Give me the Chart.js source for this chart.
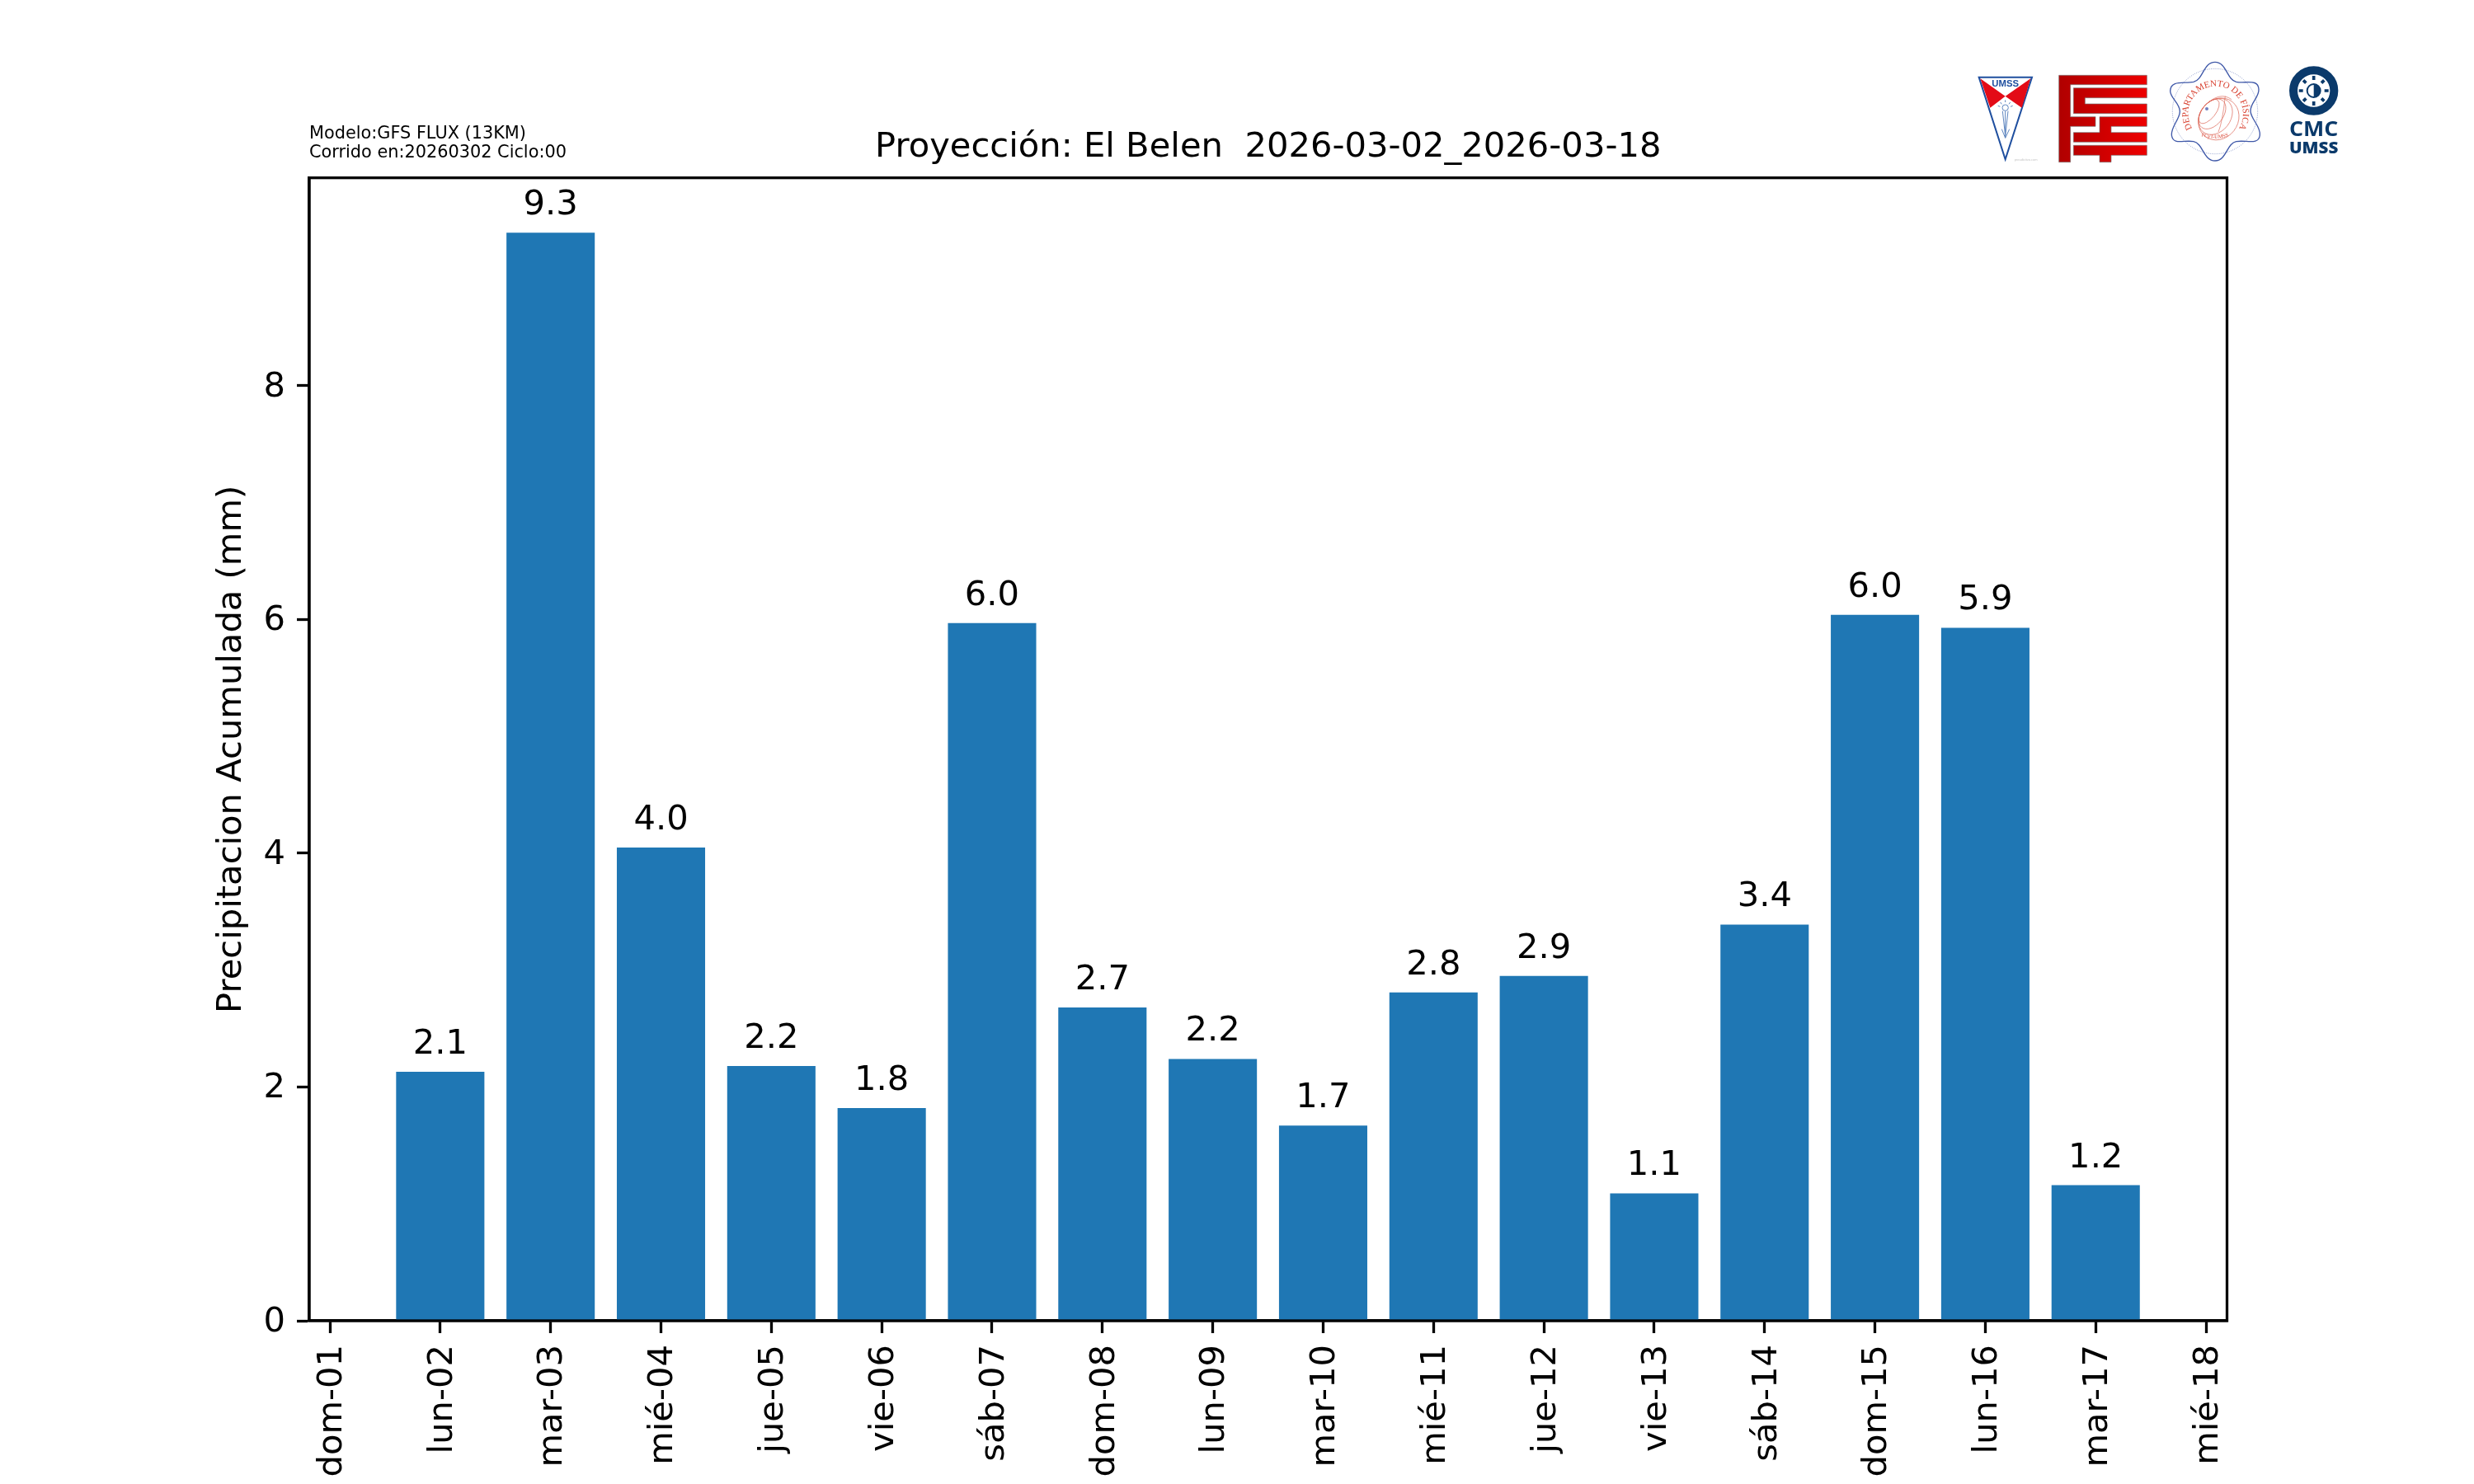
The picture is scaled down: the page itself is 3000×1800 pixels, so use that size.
<!DOCTYPE html>
<html><head><meta charset="utf-8">
<style>html,body{margin:0;padding:0;background:#fff;width:3000px;height:1800px;overflow:hidden}
#c{position:absolute;left:0;top:0}#logos{position:absolute;left:2390px;top:60px}</style>
<script src="https://cdn.jsdelivr.net/npm/chart.js@4"></script>
</head><body>
<canvas id="c" width="3000" height="1800"></canvas>
<svg id="logos" width="500" height="150" viewBox="0 0 1500 450" xmlns="http://www.w3.org/2000/svg">
<defs>
<linearGradient id="rg" gradientUnits="userSpaceOnUse" x1="320" x2="640" y1="0" y2="0"><stop offset="0" stop-color="#b00000"/><stop offset="1" stop-color="#ee0000"/></linearGradient>
<path id="arcTop" d="M 806,288 A 100,100 0 1 1 974,288"/>
<path id="arcBot" d="M 825,311 Q 888,336 950,311"/>
</defs>
<!-- UMSS -->
<polygon points="29,101 222,101 125,400" fill="#fff" stroke="#1f4f9f" stroke-width="6"/>
<polygon points="34,106 125,170 70,212" fill="#e30b17"/>
<polygon points="217,106 125,170 185,212" fill="#e30b17"/>
<text x="125" y="135" text-anchor="middle" font-family="Liberation Sans" font-weight="700" font-size="34" fill="#1f4f9f">UMSS</text>
<g stroke="#5f86bf" stroke-width="3" fill="none"><circle cx="125" cy="212" r="11"/><path d="M115,224L125,315L135,224M125,224V322M112,290L125,322L140,290M98,205l8,3M152,205l-8,3M107,192l5,7M143,192l-5,7M125,184v8"/></g>
<text x="200" y="404" text-anchor="middle" font-family="Liberation Sans" font-size="12" fill="#c4c4c4">preadictivo.com</text>
<!-- FCyT -->
<g fill="url(#rg)" stroke="#777" stroke-width="2">
<path d="M320,94H640V128H362V245H453V280H362V410H320Z"/>
<path d="M373,140H640V176H415V198H640V233H373Z"/>
<path d="M468,245H640V280H510V302H640V337H373V302H468Z"/>
<path d="M373,349H640V385H510V410H468V385H373Z"/>
</g>
<!-- Departamento -->
<circle cx="888" cy="225" r="155" fill="none" stroke="#5a70b5" stroke-width="2" stroke-dasharray="3 4"/>
<path d="M810,118C845,110 845,46 888,46C930,46 930,110 965,118C1000,125 1045,105 1047,145C1049,175 1015,195 1017,225C1019,255 1055,280 1051,312C1047,350 1000,328 965,335C930,342 930,405 888,405C845,405 845,342 810,335C775,328 735,350 730,312C727,280 760,255 760,225C760,195 723,175 725,150C727,110 775,125 810,118Z" fill="none" stroke="#3f58a8" stroke-width="4"/>
<g fill="none" stroke="#dd6a5a" stroke-width="2">
<ellipse cx="871" cy="210" rx="25" ry="52" transform="rotate(38 846 210)"/>
<ellipse cx="886" cy="210" rx="40" ry="62" transform="rotate(38 846 210)"/>
<ellipse cx="901" cy="210" rx="55" ry="72" transform="rotate(38 846 210)"/>
<ellipse cx="916" cy="210" rx="70" ry="80" transform="rotate(38 846 210)"/>
<path d="M850,205Q905,150 948,182M900,300Q915,265 925,170"/>
</g>
<circle cx="858" cy="216" r="6" fill="#6f7fc0"/>
<text font-family="Liberation Serif" font-size="33" fill="#d8402f"><textPath href="#arcTop" startOffset="50%" text-anchor="middle">DEPARTAMENTO DE FÍSICA</textPath></text>
<text font-family="Liberation Serif" font-size="19" fill="#d8402f"><textPath href="#arcBot" startOffset="50%" text-anchor="middle">FCyT-UMSS</textPath></text>
<!-- CMC -->
<circle cx="1247" cy="150" r="74" fill="none" stroke="#0b3a6b" stroke-width="30"/>
<g stroke="#0b3a6b" stroke-width="11"><path d="M1247,96V111M1247,189V204M1193,150H1208M1286,150H1301M1209,112L1219,122M1285,112L1275,122M1209,188L1219,178M1285,188L1275,178"/></g>
<circle cx="1247" cy="150" r="24" fill="none" stroke="#0b3a6b" stroke-width="6"/>
<path d="M1247,126A24,24 0 0 1 1247,174Z" fill="#0b3a6b"/>
<text x="1247" y="315" text-anchor="middle" font-family="Open Sans" font-weight="700" font-size="73" textLength="178" lengthAdjust="spacingAndGlyphs" fill="#0b3a6b">CMC</text>
<text x="1247" y="377" text-anchor="middle" font-family="Open Sans" font-weight="800" font-size="56" textLength="178" lengthAdjust="spacingAndGlyphs" fill="#0b3a6b">UMSS</text>
</svg>
<script>
const xTickLabels = ["dom-01","lun-02","mar-03","mié-04","jue-05","vie-06","sáb-07","dom-08","lun-09","mar-10","mié-11","jue-12","vie-13","sáb-14","dom-15","lun-16","mar-17","mié-18"];
const xTickValues = [0,1,2,3,4,5,6,7,8,9,10,11,12,13,14,15,16,17];
const dayPositions = [1,2,3,4,5,6,7,8,9,10,11,12,13,14,15,16];
const precipitation = [2.13,9.31,4.05,2.18,1.82,5.97,2.68,2.24,1.67,2.81,2.95,1.09,3.39,6.04,5.93,1.16];
const valueLabels = ["2.1","9.3","4.0","2.2","1.8","6.0","2.7","2.2","1.7","2.8","2.9","1.1","3.4","6.0","5.9","1.2"];
const yTickValues = [0,2,4,6,8];
const titleText = "Proyección: El Belen  2026-03-02_2026-03-18";
const yAxisTitle = "Precipitacion Acumulada (mm)";
const noteLines = ["Modelo:GFS FLUX (13KM)","Corrido en:20260302 Ciclo:00"];

const FONT = "'DejaVu Sans'";
const LW = 3.3;
const overlay = {
  id:'overlay',
  afterDraw(chart){
    const {ctx,chartArea:a} = chart;
    ctx.save();
    ctx.strokeStyle='#000';ctx.lineWidth=LW;
    ctx.strokeRect(a.left,a.top,a.right-a.left,a.bottom-a.top);
    ctx.fillStyle='#000';
    ctx.font=`41.67px ${FONT}`;ctx.textAlign='center';ctx.textBaseline='alphabetic';
    chart.getDatasetMeta(0).data.forEach((b,i)=>ctx.fillText(valueLabels[i],b.x,b.y-22));
    ctx.font=`20.83px ${FONT}`;ctx.textAlign='left';
    ctx.fillText(noteLines[0],a.left,168);
    ctx.fillText(noteLines[1],a.left,191);
    ctx.restore();
  }
};
new Chart(document.getElementById('c'),{
  type:'bar',
  data:{labels:dayPositions,datasets:[{data:precipitation,backgroundColor:'#1f77b4',borderWidth:0,barPercentage:0.8,categoryPercentage:1}]},
  options:{
    responsive:false,animation:false,
    layout:{padding:{left:0,right:299.5,top:158,bottom:0}},
    plugins:{legend:{display:false},tooltip:{enabled:false},
      title:{display:true,fullSize:false,text:titleText,color:'#000',font:{family:FONT,size:41.67,weight:'normal',lineHeight:1},padding:{top:0,bottom:16}}},
    scales:{
      x:{type:'linear',min:-0.187,max:17.19,offset:false,
        afterBuildTicks:s=>{s.ticks=xTickValues.map(value=>({value}));},
        afterFit:s=>{s.height=198;},
        border:{display:true,color:'#000',width:LW},
        grid:{display:true,offset:false,drawOnChartArea:false,drawTicks:true,tickLength:15,tickWidth:LW,tickColor:'#000'},
        ticks:{autoSkip:false,maxRotation:90,minRotation:90,padding:14,labelOffset:3,color:'#000',font:{family:FONT,size:41.67},callback:(v,i)=>xTickLabels[i]}},
      y:{type:'linear',min:0,max:9.78,
        afterBuildTicks:s=>{s.ticks=yTickValues.map(value=>({value}));},
        afterFit:s=>{s.width=375;},
        border:{display:true,color:'#000',width:LW},
        grid:{display:true,drawOnChartArea:false,drawTicks:true,tickLength:15,tickWidth:LW,tickColor:'#000'},
        title:{display:true,text:yAxisTitle,color:'#000',font:{family:FONT,size:41.67,weight:'normal',lineHeight:1},padding:{top:260,bottom:0}},
        ticks:{padding:14,labelOffset:2,color:'#000',font:{family:FONT,size:41.67},callback:v=>String(v)}}
    }
  },
  plugins:[overlay]
});
</script>
</body></html>
